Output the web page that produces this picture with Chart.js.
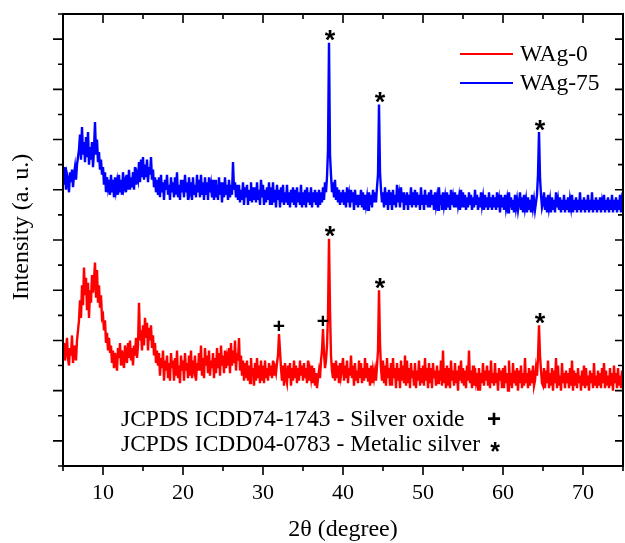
<!DOCTYPE html>
<html>
<head>
<meta charset="utf-8">
<script src="https://cdn.jsdelivr.net/npm/chart.js@4.4.1/dist/chart.umd.min.js"></script>
<style>
  html, body { margin: 0; padding: 0; background: #fff; }
  #wrap { width: 625px; height: 543px; }
</style>
</head>
<body>
<div id="wrap"><canvas id="xrd" width="625" height="543"></canvas></div>
<script>
// XRD-Messung: 2θ von 5° bis 75°, Schrittweite 0.125° (8 Werte pro Grad)
const angleStart = 5;
const angleStep = 0.125;

// WAg-0 (rot), Intensität in a. u.
const wAg0 = [
  4.5, 4.9, 4.2, 4.6, 5.1, 4.3, 4.0, 4.7,
  4.4, 5.2, 4.1, 4.5, 4.8, 4.2, 5.0, 5.4,
  5.8, 6.6, 5.9, 7.2, 6.4, 7.9, 6.8, 7.5,
  6.2, 7.3, 5.9, 7.0, 6.5, 7.6, 6.9, 7.4,
  8.1, 6.7, 7.8, 6.5, 7.2, 6.3, 6.8, 5.9,
  6.0, 5.4, 5.8, 4.9, 5.3, 4.6, 5.1, 4.5,
  4.8, 4.1, 4.6, 3.9, 4.5, 4.2, 3.8, 4.7,
  4.3, 4.9, 4.0, 4.6, 4.2, 3.9, 4.8, 4.4,
  4.1, 4.9, 4.3, 5.0, 4.2, 4.7, 4.0, 4.8,
  4.4, 5.1, 4.3, 4.8, 6.5, 5.0, 5.4, 4.6,
  5.6, 4.8, 5.9, 5.1, 5.7, 4.6, 5.5, 5.0,
  5.6, 4.7, 5.2, 4.4, 4.9, 4.1, 4.6, 4.0,
  4.5, 3.6, 4.3, 3.9, 4.6, 3.4, 4.2, 3.8,
  4.4, 3.5, 4.1, 3.4, 4.5, 3.9, 4.2, 3.4,
  4.3, 3.6, 4.6, 3.5, 4.0, 3.3, 4.4, 3.8,
  4.2, 3.4, 4.5, 3.8, 4.1, 3.5, 4.4, 3.6,
  4.6, 3.5, 4.2, 3.9, 4.4, 3.4, 4.1, 3.8,
  4.5, 3.8, 4.8, 3.6, 4.3, 3.5, 4.7, 4.0,
  4.4, 3.7, 4.6, 3.6, 4.2, 3.9, 4.5, 3.5,
  4.3, 3.7, 4.7, 3.9, 4.5, 3.6, 4.8, 4.0,
  4.4, 3.7, 4.6, 3.9, 4.3, 4.0, 4.7, 3.7,
  4.9, 4.0, 4.6, 4.1, 5.0, 3.8, 4.5, 4.2,
  5.1, 3.8, 4.4, 3.6, 4.2, 3.4, 4.1, 3.5,
  4.2, 3.4, 4.0, 3.3, 4.3, 3.6, 3.9, 3.2,
  4.1, 3.4, 4.3, 3.5, 4.0, 3.3, 4.2, 3.4,
  4.0, 3.3, 4.2, 3.5, 3.9, 3.4, 4.1, 3.6,
  4.0, 3.5, 4.2, 3.6, 3.9, 3.7, 4.1, 4.4,
  5.25, 4.6, 3.9, 3.4, 4.0, 3.2, 4.1, 3.5,
  3.3, 4.0, 3.5, 4.1, 3.2, 3.9, 3.4, 4.2,
  3.5, 4.0, 3.3, 3.9, 3.4, 4.2, 3.6, 4.0,
  3.4, 4.1, 3.5, 3.9, 3.3, 4.2, 3.4, 3.8,
  3.5, 4.0, 3.3, 3.9, 3.2, 3.7, 3.1, 3.5,
  3.8, 3.5, 4.2, 4.6, 5.45, 4.5, 3.9, 4.2,
  4.8, 6.0, 9.05, 6.2, 4.4, 3.8, 3.5, 4.1,
  3.4, 4.2, 3.5, 4.0, 3.3, 4.1, 3.6, 3.9,
  4.3, 3.4, 4.0, 3.5, 4.2, 3.3, 3.9, 3.6,
  4.4, 3.5, 4.0, 3.2, 4.1, 3.4, 3.8, 3.3,
  4.2, 3.5, 4.1, 3.3, 3.9, 3.4, 4.3, 3.5,
  4.1, 3.4, 3.9, 3.2, 4.0, 3.3, 3.8, 3.5,
  3.8, 3.4, 4.0, 4.6, 7.0, 4.9, 3.9, 3.4,
  4.2, 3.3, 4.0, 3.2, 4.3, 3.5, 3.9, 3.2,
  4.1, 3.2, 4.3, 3.5, 3.9, 3.1, 4.1, 3.4,
  3.9, 3.1, 4.2, 3.4, 4.0, 3.3, 4.4, 3.2,
  4.2, 3.3, 3.9, 3.1, 4.1, 3.5, 3.8, 3.2,
  4.1, 3.1, 3.8, 3.4, 4.2, 3.2, 3.9, 3.3,
  4.0, 3.2, 4.3, 3.4, 3.9, 3.1, 4.1, 3.3,
  3.9, 3.1, 4.1, 3.5, 3.8, 3.2, 4.0, 3.3,
  3.8, 3.4, 4.2, 3.2, 4.6, 3.3, 3.9, 3.1,
  4.0, 3.2, 3.9, 3.1, 4.2, 3.4, 3.8, 3.2,
  4.1, 3.3, 3.8, 3.0, 4.0, 3.4, 4.2, 3.3,
  3.9, 3.2, 3.8, 3.1, 4.0, 3.4, 4.6, 3.3,
  3.8, 3.1, 4.0, 3.2, 3.9, 3.4, 3.7, 3.0,
  3.9, 3.0, 3.7, 3.3, 4.1, 3.2, 3.8, 3.4,
  4.0, 3.2, 3.8, 3.1, 4.2, 3.3, 3.7, 3.2,
  4.1, 3.3, 3.7, 3.0, 3.9, 3.4, 3.8, 3.1,
  3.9, 3.1, 4.0, 3.3, 3.7, 3.0, 4.2, 3.2,
  3.7, 3.1, 4.1, 3.3, 3.8, 3.2, 3.9, 3.0,
  3.8, 3.3, 4.0, 3.1, 3.7, 3.2, 4.3, 3.3,
  3.7, 3.1, 3.9, 3.2, 3.8, 3.3, 4.0, 3.2,
  3.4, 3.9, 3.6, 4.3, 5.6, 4.4, 3.8, 3.3,
  3.2, 3.9, 3.1, 3.8, 3.3, 4.2, 3.1, 3.7,
  3.2, 3.9, 3.0, 3.8, 3.3, 4.3, 3.1, 4.0,
  3.2, 3.6, 3.0, 4.1, 3.3, 3.7, 3.1, 3.8,
  3.3, 3.7, 3.1, 3.9, 3.2, 4.2, 3.0, 3.8,
  3.2, 3.7, 3.1, 3.9, 3.3, 3.6, 3.0, 3.8,
  3.2, 4.0, 3.1, 3.9, 3.2, 3.6, 3.0, 3.8,
  3.3, 3.7, 3.1, 4.1, 3.2, 3.6, 3.1, 3.8,
  3.2, 3.7, 3.1, 3.9, 3.3, 4.1, 3.1, 3.8,
  3.2, 3.6, 3.1, 3.9, 3.2, 3.7, 3.0, 4.0,
  3.3, 3.7, 3.1, 3.9, 3.2, 3.6, 3.1, 3.8,
  3.4
];

// WAg-75 (blau)
const wAg75 = [
  11.8, 11.2, 11.9, 11.0, 11.6, 11.4, 10.9, 11.7,
  11.3, 11.8, 11.1, 11.6, 11.9, 11.4, 12.0, 12.3,
  12.6, 13.2, 12.2, 13.5, 12.4, 12.9, 12.1, 13.1,
  12.3, 13.3, 12.0, 12.7, 12.2, 12.9, 11.9, 12.6,
  13.7, 12.4, 13.0, 12.1, 12.5, 11.8, 12.2, 11.6,
  11.9, 11.2, 11.7, 10.9, 11.5, 11.1, 11.4, 10.8,
  11.6, 10.9, 11.4, 10.7, 11.5, 11.0, 11.3, 10.8,
  11.6, 10.9, 11.4, 10.8, 11.7, 11.1, 11.3, 10.9,
  11.6, 11.0, 11.8, 11.0, 11.5, 11.1, 11.7, 11.0,
  11.9, 11.2, 11.6, 11.4, 12.1, 11.3, 12.2, 11.5,
  12.3, 11.4, 12.0, 11.5, 12.2, 11.3, 11.9, 11.6,
  12.3, 11.4, 11.8, 11.1, 11.5, 10.9, 11.4, 10.8,
  11.5, 10.7, 11.6, 10.9, 11.3, 10.6, 11.4, 11.0,
  11.6, 10.8, 11.2, 10.6, 11.5, 10.9, 11.3, 10.7,
  11.5, 10.8, 11.7, 10.7, 11.2, 10.6, 11.4, 10.9,
  11.4, 10.7, 11.6, 10.9, 11.3, 10.6, 11.5, 11.0,
  11.3, 10.6, 11.5, 10.8, 11.2, 10.7, 11.6, 10.9,
  11.4, 10.7, 11.6, 10.8, 11.3, 10.6, 11.5, 10.8,
  11.3, 10.6, 11.5, 10.9, 11.2, 10.7, 11.4, 10.6,
  11.4, 10.7, 11.2, 10.6, 11.5, 10.8, 11.3, 10.5,
  11.3, 10.7, 11.5, 10.8, 11.2, 10.6, 11.4, 10.7,
  11.2, 10.8, 12.1, 11.0, 11.3, 10.7, 11.2, 10.6,
  11.2, 10.5, 11.0, 10.6, 11.3, 10.4, 11.1, 10.7,
  11.2, 10.4, 11.0, 10.6, 11.3, 10.5, 11.1, 10.6,
  11.1, 10.5, 11.3, 10.6, 11.0, 10.4, 11.4, 10.7,
  11.2, 10.4, 11.0, 10.5, 11.1, 10.6, 11.3, 10.4,
  11.1, 10.4, 11.3, 10.5, 11.0, 10.3, 11.2, 10.6,
  11.0, 10.3, 11.1, 10.5, 11.2, 10.4, 10.9, 10.5,
  11.2, 10.4, 10.9, 10.3, 11.0, 10.5, 11.1, 10.4,
  11.0, 10.3, 11.1, 10.5, 10.9, 10.4, 11.2, 10.3,
  10.9, 10.4, 11.0, 10.3, 11.1, 10.5, 10.9, 10.4,
  11.1, 10.3, 10.9, 10.5, 11.0, 10.4, 10.9, 10.3,
  11.0, 10.4, 10.9, 10.5, 11.1, 10.6, 11.3, 10.9,
  11.5, 12.6, 16.85, 12.4, 11.6, 10.9, 11.3, 10.7,
  11.4, 10.6, 11.1, 10.5, 11.0, 10.4, 10.9, 10.5,
  11.0, 10.4, 10.9, 10.3, 11.1, 10.5, 10.8, 10.3,
  11.0, 10.5, 10.9, 10.2, 11.0, 10.4, 10.8, 10.3,
  10.8, 10.4, 11.0, 10.3, 10.9, 10.2, 10.8, 10.4,
  10.7, 10.2, 10.9, 10.4, 10.8, 10.3, 11.0, 10.5,
  10.9, 10.5, 11.1, 11.6, 14.4, 11.7, 11.0, 10.5,
  10.9, 10.3, 11.1, 10.4, 10.9, 10.2, 11.0, 10.4,
  10.9, 10.2, 11.0, 10.4, 10.8, 10.3, 11.2, 10.5,
  10.8, 10.3, 11.1, 10.5, 10.9, 10.2, 10.8, 10.4,
  10.9, 10.2, 10.8, 10.4, 11.1, 10.3, 10.9, 10.4,
  11.0, 10.3, 10.9, 10.4, 10.8, 10.2, 11.1, 10.4,
  10.8, 10.2, 11.0, 10.4, 10.8, 10.3, 10.9, 10.3,
  11.0, 10.4, 10.8, 10.2, 10.9, 10.4, 10.7, 10.2,
  11.1, 10.4, 10.8, 10.2, 10.9, 10.4, 10.7, 10.2,
  10.9, 10.3, 10.8, 10.2, 11.0, 10.4, 10.7, 10.3,
  10.9, 10.3, 10.8, 10.4, 10.7, 10.2, 11.0, 10.3,
  10.9, 10.3, 10.8, 10.2, 10.7, 10.3, 10.9, 10.4,
  10.8, 10.2, 10.7, 10.3, 11.0, 10.4, 10.8, 10.2,
  10.7, 10.3, 10.9, 10.4, 10.7, 10.2, 10.8, 10.3,
  10.7, 10.2, 10.9, 10.3, 10.7, 10.2, 10.8, 10.3,
  10.7, 10.2, 10.9, 10.3, 10.6, 10.1, 10.8, 10.3,
  10.7, 10.2, 10.8, 10.3, 10.6, 10.1, 10.9, 10.3,
  10.7, 10.2, 10.6, 10.1, 10.8, 10.3, 10.6, 10.2,
  10.5, 10.9, 10.2, 10.7, 10.1, 10.8, 10.3, 10.6,
  10.1, 10.7, 10.2, 10.6, 10.1, 10.8, 10.3, 10.6,
  10.2, 10.5, 10.8, 11.6, 13.3, 11.5, 10.8, 10.3,
  10.5, 10.9, 10.2, 10.7, 10.1, 10.8, 10.3, 10.6,
  10.1, 10.7, 10.2, 10.6, 10.1, 10.9, 10.3, 10.6,
  10.2, 10.7, 10.1, 10.6, 10.2, 10.8, 10.1, 10.6,
  10.2, 10.7, 10.1, 10.6, 10.3, 10.8, 10.1, 10.6,
  10.2, 10.7, 10.1, 10.6, 10.2, 10.9, 10.1, 10.6,
  10.2, 10.7, 10.1, 10.6, 10.2, 10.8, 10.1, 10.6,
  10.2, 10.9, 10.1, 10.6, 10.2, 10.7, 10.1, 10.6,
  10.2, 10.7, 10.1, 10.5, 10.2, 10.8, 10.1, 10.6,
  10.2, 10.7, 10.1, 10.6, 10.2, 10.8, 10.1, 10.6,
  10.2, 10.7, 10.1, 10.6, 10.2, 10.8, 10.1, 10.6,
  10.4
];

// Reflexe: '+' Silberoxid, '*' metallisches Silber
const wAg0Marks = [[32.0, '+'], [37.5, '+'], [38.25, '*'], [44.5, '*'], [64.5, '*']];
const wAg75Marks = [[38.25, '*'], [44.5, '*'], [64.5, '*']];

// Achsen
const xTickValues = [5, 10, 15, 20, 25, 30, 35, 40, 45, 50, 55, 60, 65, 70, 75];
const xTickLabels = [10, 20, 30, 40, 50, 60, 70];
const yTickValues = [0, 1, 2, 3, 4, 5, 6, 7, 8, 9, 10, 11, 12, 13, 14, 15, 16, 17, 18];

const seriesNames = ['WAg-0', 'WAg-75'];
const referenceCards = [
  ['JCPDS ICDD74-1743 - Silver oxide', '+'],
  ['JCPDS ICDD04-0783 - Metalic silver', '*']
];

const serif = '"Liberation Serif", "Times New Roman", serif';
const sans = '"Liberation Sans", Arial, sans-serif';

function toPoints(values) {
  return values.map((v, i) => ({x: angleStart + i * angleStep, y: v}));
}

function valueAt(values, angle) {
  return values[Math.round((angle - angleStart) / angleStep)];
}

// Symbol zentriert auf (cx, cy) zeichnen
function drawSymbol(ctx, sym, cx, cy, font) {
  ctx.font = font;
  ctx.textAlign = 'center';
  ctx.textBaseline = 'alphabetic';
  const m = ctx.measureText(sym);
  const mid = (m.actualBoundingBoxAscent - m.actualBoundingBoxDescent) / 2;
  ctx.fillText(sym, cx, cy + mid);
}

const xrdDecor = {
  id: 'xrdDecor',
  afterDraw(chart) {
    const {ctx, chartArea: a, scales: {x, y}} = chart;
    ctx.save();
    ctx.fillStyle = '#000';
    ctx.strokeStyle = '#000';

    // Rahmen
    ctx.lineWidth = 2;
    ctx.strokeRect(a.left, a.top, a.right - a.left, a.bottom - a.top);

    // Tickmarks
    ctx.lineWidth = 1.6;
    ctx.beginPath();
    xTickValues.forEach(v => {
      const px = x.getPixelForValue(v);
      const len = v % 10 === 0 ? 9 : 5;
      ctx.moveTo(px, a.bottom); ctx.lineTo(px, a.bottom + len);
      ctx.moveTo(px, a.top); ctx.lineTo(px, a.top + len);
    });
    yTickValues.forEach(v => {
      const py = y.getPixelForValue(v);
      const major = v % 2 === 1;
      ctx.moveTo(a.left, py); ctx.lineTo(a.left - (major ? 10 : 5), py);
      ctx.moveTo(a.right, py); ctx.lineTo(a.right - (major ? 8 : 5), py);
    });
    ctx.stroke();

    // Ticklabels
    ctx.font = '22px ' + serif;
    ctx.textAlign = 'center';
    ctx.textBaseline = 'middle';
    xTickLabels.forEach(v => {
      ctx.fillText(String(v), x.getPixelForValue(v), a.bottom + 27);
    });

    // Achsentitel
    ctx.font = '24px ' + serif;
    ctx.fillText('2θ (degree)', (a.left + a.right) / 2, a.bottom + 64);
    ctx.save();
    ctx.translate(22, a.top + 213);
    ctx.rotate(-Math.PI / 2);
    ctx.fillText('Intensity (a. u.)', 0, 0);
    ctx.restore();

    // Legende
    const colors = chart.data.datasets.map(d => d.borderColor);
    seriesNames.forEach((name, i) => {
      const ly = 54 + i * 29;
      ctx.strokeStyle = colors[i];
      ctx.lineWidth = 2.2;
      ctx.beginPath();
      ctx.moveTo(460, ly); ctx.lineTo(513, ly);
      ctx.stroke();
      ctx.font = '23.5px ' + serif;
      ctx.textAlign = 'left';
      ctx.textBaseline = 'middle';
      ctx.fillText(name, 520, ly + 1);
    });

    // Reflexmarkierungen
    [[wAg0, wAg0Marks], [wAg75, wAg75Marks]].forEach(([values, marks]) => {
      marks.forEach(([angle, sym]) => {
        const px = x.getPixelForValue(angle);
        const py = y.getPixelForValue(valueAt(values, angle));
        if (sym === '*') {
          drawSymbol(ctx, sym, px + 1, py - 7, 'bold 27px ' + sans);
        } else {
          drawSymbol(ctx, sym, px, py - 9, 'bold 21px ' + sans);
        }
      });
    });

    // Referenzkarten
    referenceCards.forEach(([text, sym], i) => {
      const ty = 420 + i * 25;
      ctx.font = '23.5px ' + serif;
      ctx.textAlign = 'left';
      ctx.textBaseline = 'middle';
      ctx.fillText(text, 121, ty);
      if (sym === '*') {
        drawSymbol(ctx, sym, 495, ty + 2, 'bold 25px ' + sans);
      } else {
        drawSymbol(ctx, sym, 494, ty - 2, 'bold 24px ' + sans);
      }
    });

    ctx.restore();
  }
};

new Chart(document.getElementById('xrd'), {
  type: 'line',
  data: {
    datasets: [
      {label: seriesNames[0], data: toPoints(wAg0), borderColor: '#ff0000', backgroundColor: '#ff0000'},
      {label: seriesNames[1], data: toPoints(wAg75), borderColor: '#0000ff', backgroundColor: '#0000ff'}
    ]
  },
  options: {
    responsive: false,
    animation: false,
    layout: {padding: {left: 63, right: 2, top: 14, bottom: 77}},
    elements: {
      point: {radius: 0},
      line: {borderWidth: 2.4, tension: 0}
    },
    plugins: {
      legend: {display: false},
      tooltip: {enabled: false}
    },
    scales: {
      x: {type: 'linear', min: 5, max: 75, display: false},
      y: {type: 'linear', min: 0, max: 18, display: false}
    }
  },
  plugins: [xrdDecor]
});
</script>
</body>
</html>
